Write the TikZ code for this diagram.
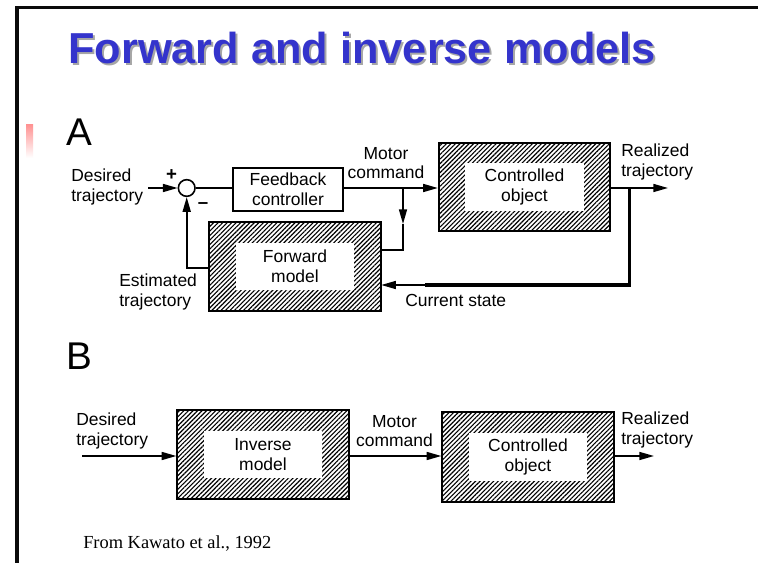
\documentclass[tikz,border=0pt]{standalone}
\usepackage{fontspec}
\setmainfont{Liberation Sans}
\newfontfamily\citefont{Liberation Serif}
\usetikzlibrary{arrows.meta,patterns.meta}
\definecolor{titleblue}{RGB}{52,52,204}
\definecolor{frameblack}{RGB}{10,10,10}

\tikzset{
  lbl/.style={font=\fontsize{13.1}{14.8}\selectfont, inner sep=0pt},
  hatchbox/.style={draw, line width=1.5pt, minimum width=128.5pt, minimum height=66.5pt,
    pattern={Lines[angle=45,distance=2.4pt,line width=0.85pt]}},
  innerbox/.style={fill=white, inner sep=0pt, minimum width=89pt, minimum height=35.5pt,
    align=center, font=\fontsize{13.1}{14.8}\selectfont},
  plainbox/.style={draw, line width=1.3pt, minimum width=82.5pt, minimum height=32pt,
    align=center, font=\fontsize{13.1}{14.8}\selectfont, inner sep=0pt},
  wire/.style={line width=1.2pt},
  arr/.style={wire, -{Triangle[length=11pt,width=6pt]}},
  thickwire/.style={line width=2.3pt},
  bigletter/.style={font=\fontsize{29}{32}\selectfont, inner sep=0pt, anchor=base west},
}

\begin{document}
\begin{tikzpicture}[x=0.75pt,y=-0.75pt]
\useasboundingbox (0,0) rectangle (758,563);
\fill[white] (0,0) rectangle (758,563);

% slide frame
\draw[line width=2.3pt, color=frameblack] (17,563) -- (17,7.5) -- (758,7.5);

% faded accent bar
\shade[top color=red!42, bottom color=white] (26,125) rectangle (33,158);

% title with drop shadow
\node[anchor=base west, inner sep=0pt, text=black!35,
      font=\bfseries\fontsize{32.5}{36}\selectfont] (titleshadow) at (70,66) {Forward and inverse models};
\node[anchor=base west, inner sep=0pt, text=titleblue,
      font=\bfseries\fontsize{32.5}{36}\selectfont] (title) at (68,64) {Forward and inverse models};

% ---------------- panel A ----------------
\node[bigletter] (labA) at (66,146) {A};

\node[draw, circle, wire, minimum size=12.5pt, inner sep=0pt] (sum) at (186.7,188) {};
\node[plainbox] (fb) at (288,189.5) {Feedback\\controller};

\node[hatchbox] (fm) at (295,266.5) {};
\node[innerbox] (fmtext) at (fm.center) {Forward\\model};

\node[hatchbox] (co) at (524.5,187) {};
\node[innerbox] (cotext) at (co.center) {Controlled\\object};

\coordinate (inA) at (148,188);
\coordinate (br1) at (403,188);
\coordinate (brmid) at (403,224);
\coordinate (br2) at (403,250);
\coordinate (outA) at (668,188);
\coordinate (st1) at (629.5,188);
\coordinate (st2) at (629.5,285);
\coordinate (st3) at (425,285);

\draw[arr] (inA) -- (sum.west);
\draw[wire] (sum.east) -- (fb.west |- sum.east);
\draw[arr] (fb.east |- br1) -- (co.west |- br1);
\draw[arr] (br1) -- (brmid);
\draw[wire] (brmid) -- (br2) -- (fm.east |- br2);
\draw[arr] (fm.west |- 0,268) -| (sum.south);
\draw[arr] (co.east |- outA) -- (outA);
\draw[thickwire] (st1) -- (st2) -- (st3);
\draw[arr] (st3) -- (fm.east |- st3);

\node[lbl, font=\bfseries\fontsize{14}{16}\selectfont] (plus) at (171.5,175) {+};
\node[lbl, font=\bfseries\fontsize{14}{16}\selectfont] (minus) at (203,206) {\textendash};

\node[lbl, anchor=west, align=left] (desA) at (71,187) {Desired\\trajectory};
\node[lbl, align=center] (motA) at (386,163) {Motor\\command};
\node[lbl, anchor=west, align=left] (realA) at (621,162) {Realized\\trajectory};
\node[lbl, anchor=west, align=left] (estA) at (119,292) {Estimated\\trajectory};
\node[lbl, anchor=west] (cur) at (405,300) {Current state};

% ---------------- panel B ----------------
\node[bigletter] (labB) at (66,370) {B};

\node[hatchbox] (im) at (263,454.5) {};
\node[innerbox] (imtext) at (im.center) {Inverse\\model};

\node[hatchbox, minimum height=67.5pt] (coB) at (528,457) {};
\node[innerbox] (coBtext) at (coB.center) {Controlled\\object};

\coordinate (inB) at (82,456);
\coordinate (outB) at (654,456);

\draw[arr] (inB) -- (im.west |- inB);
\draw[arr] (im.east |- inB) -- (coB.west |- inB);
\draw[arr] (coB.east |- outB) -- (outB);

\node[lbl, anchor=west, align=left] (desB) at (76,431) {Desired\\trajectory};
\node[lbl, align=center] (motB) at (394.5,431) {Motor\\command};
\node[lbl, anchor=west, align=left] (realB) at (621,430) {Realized\\trajectory};

% source note
\node[anchor=base west, inner sep=0pt, font=\citefont\fontsize{13.8}{15}\selectfont] (cite) at (83,548) {From Kawato et al., 1992};
\end{tikzpicture}
\end{document}
